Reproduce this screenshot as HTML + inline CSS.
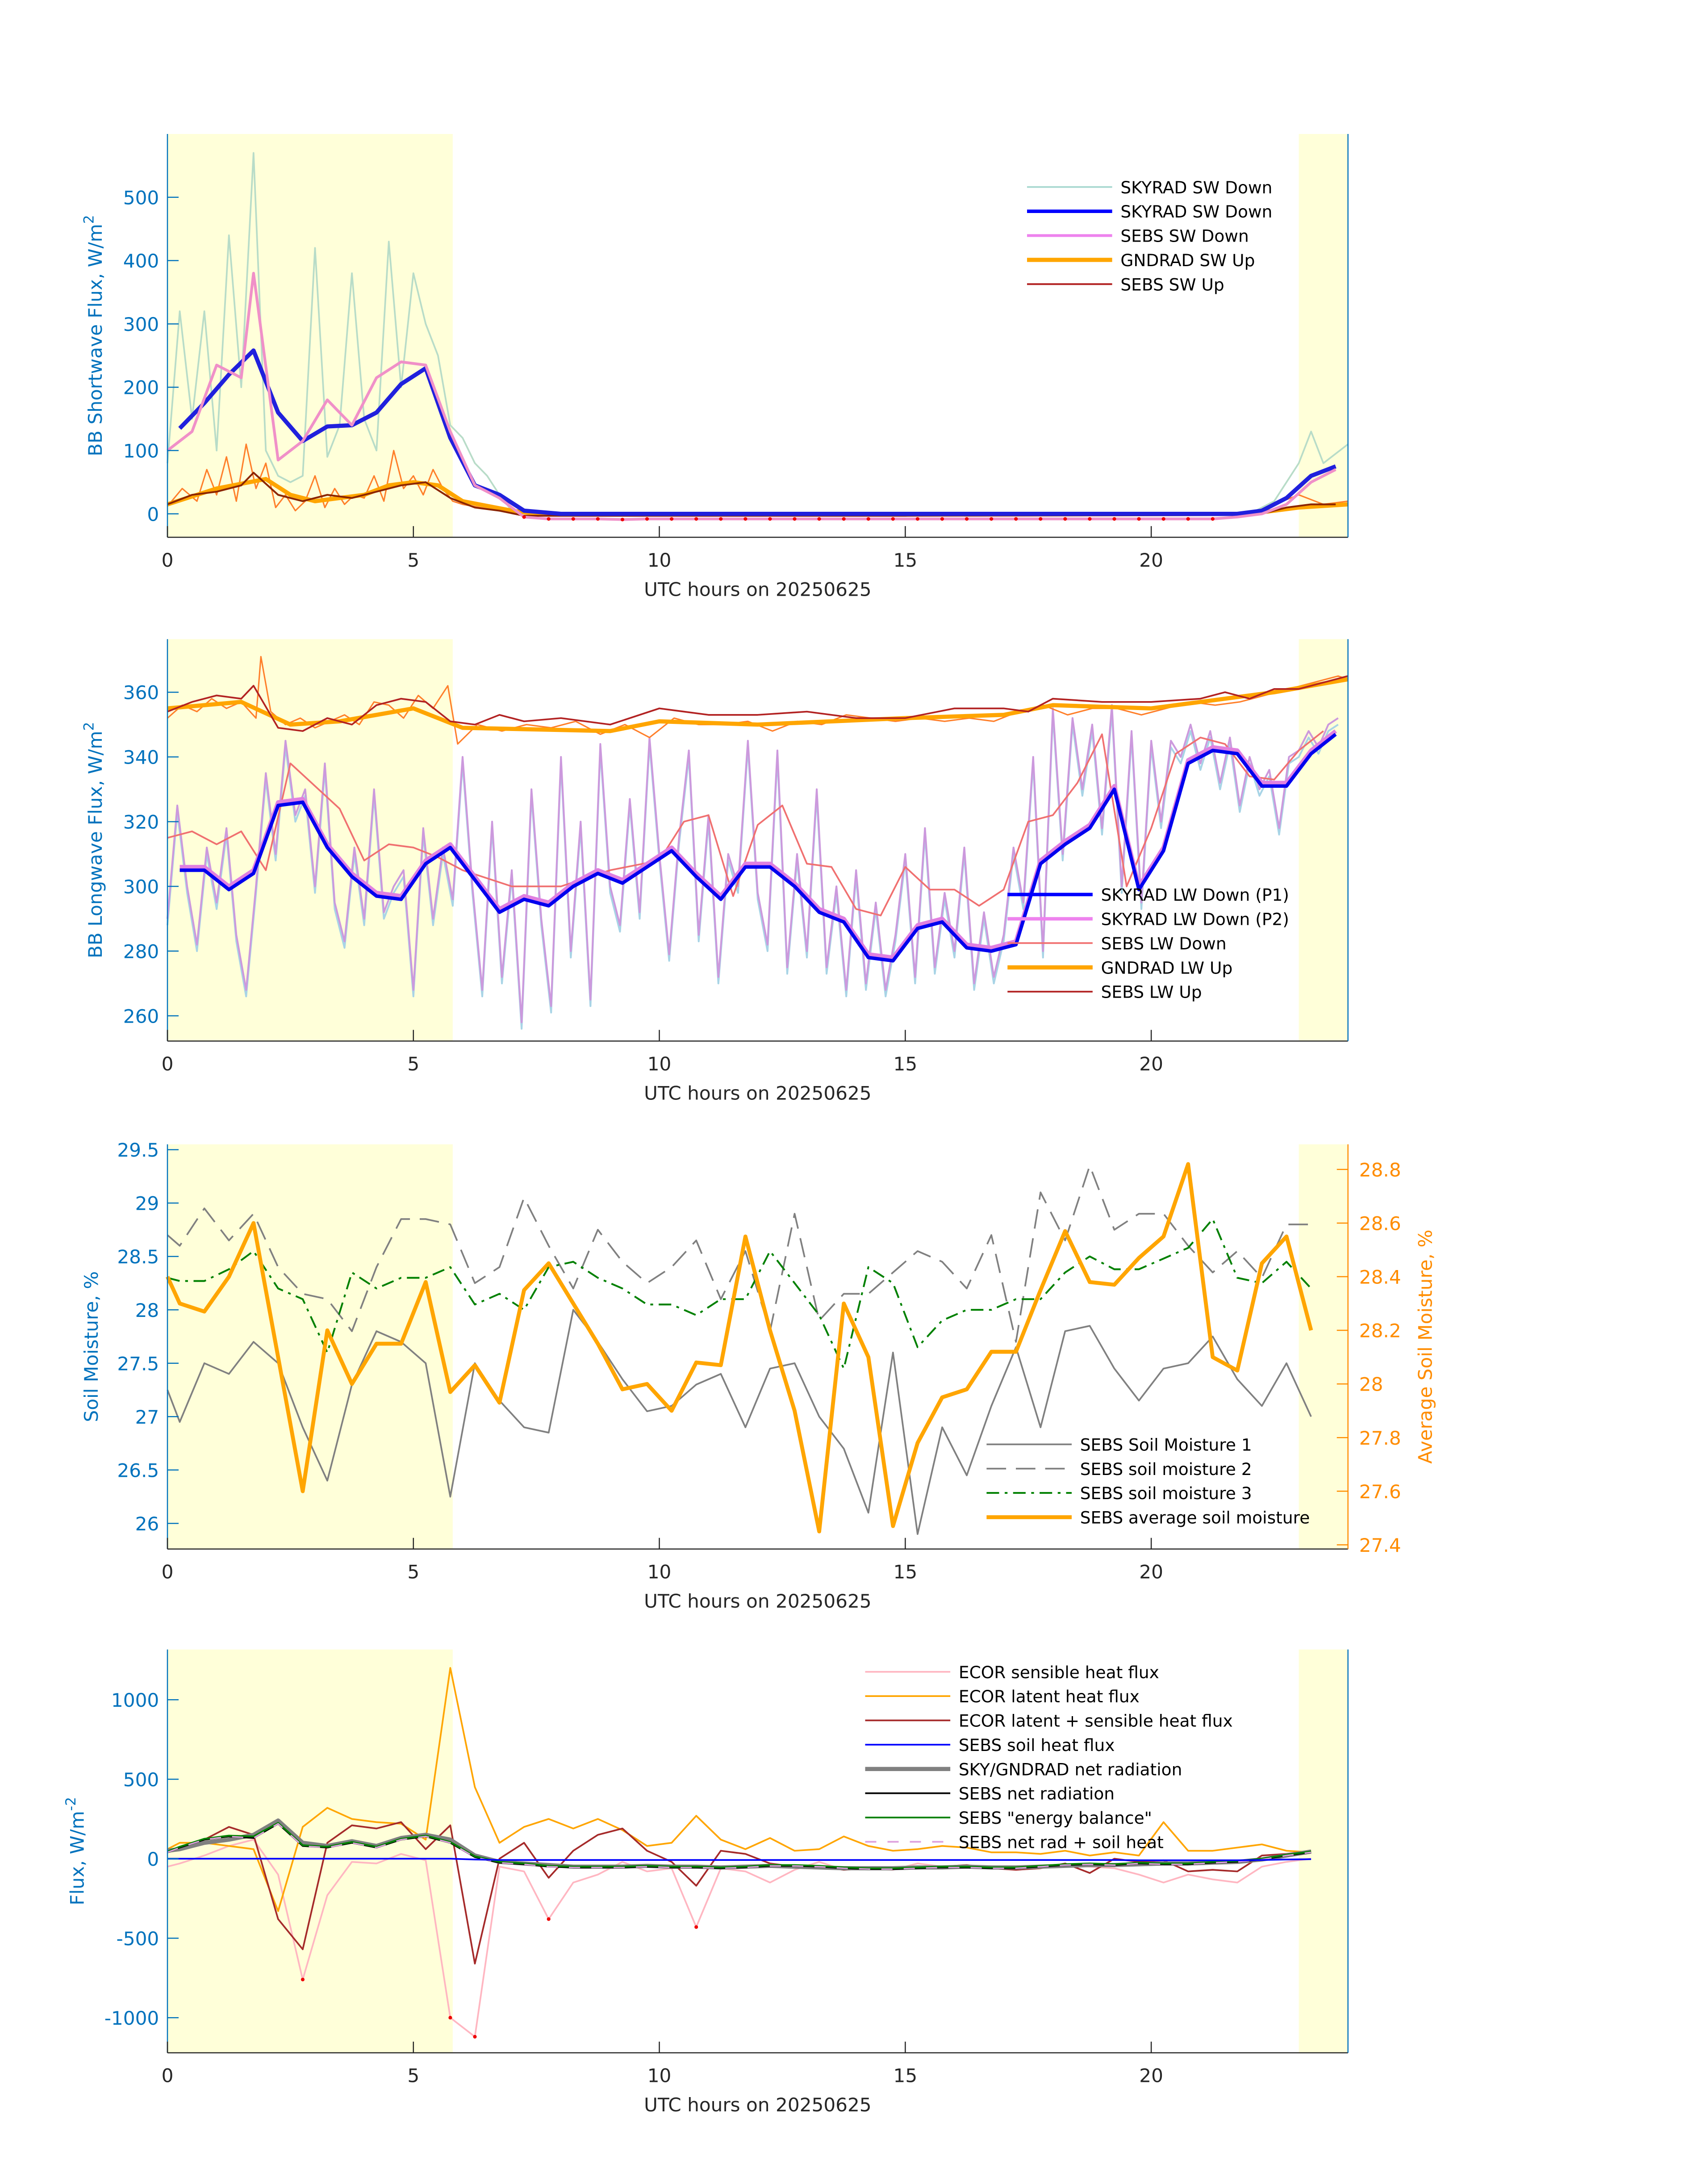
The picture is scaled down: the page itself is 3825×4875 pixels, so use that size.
<!DOCTYPE html>
<html><head><meta charset="utf-8"><style>
html,body{margin:0;padding:0;background:#fff}
svg{display:block}
text{font-family:"DejaVu Sans","Liberation Sans",sans-serif}
.tk{font-size:13.5px;fill:#0072BD}
.xt{font-size:13.5px;fill:#262626}
.lg{font-size:12px;fill:#000}
</style></head><body>
<svg id="fig" width="3825" height="4875" viewBox="0 0 1224 1560" xmlns="http://www.w3.org/2000/svg"></svg>
<script>
// ---------- DATA ----------
// Panel 1 (shortwave)
const swRawT=[0,0.25,0.5,0.75,1,1.25,1.5,1.75,2,2.25,2.5,2.75,3,3.25,3.5,3.75,4,4.25,4.5,4.75,5,5.25,5.5,5.75,6,6.25,6.5,6.75,7,7.5,22,22.5,23,23.25,23.5,24];
const swRawV=[80,320,150,320,100,440,200,570,100,60,50,60,420,90,140,380,150,100,430,200,380,300,250,140,120,80,60,30,5,0,0,20,80,130,80,110];
const swDownT=[0.25,0.75,1.25,1.75,2.25,2.75,3.25,3.75,4.25,4.75,5.25,5.75,6.25,6.75,7.25,8,10,12,14,16,18,20,21.75,22.25,22.75,23.25,23.75];
const swDownV=[135,175,220,258,160,115,138,140,160,205,230,120,45,30,5,0,0,0,0,0,0,0,0,5,25,60,75];
const sebsSwDownT=[0,0.5,1,1.5,1.75,2.25,2.75,3.25,3.75,4.25,4.75,5.25,5.75,6.25,6.75,7.25,7.75,8.25,8.75,9.25,9.75,10.25,10.75,11.25,11.75,12.25,12.75,13.25,13.75,14.25,14.75,15.25,15.75,16.25,16.75,17.25,17.75,18.25,18.75,19.25,19.75,20.25,20.75,21.25,21.75,22.25,22.75,23.25,23.75];
const sebsSwDownV=[100,130,235,215,380,85,115,180,140,215,240,235,130,45,25,-5,-8,-8,-8,-9,-8,-8,-8,-8,-8,-8,-8,-8,-8,-8,-8,-8,-8,-8,-8,-8,-8,-8,-8,-8,-8,-8,-8,-8,-5,0,15,50,70];
const gndSwT=[0,1,2,2.5,3,4,4.5,5,5.5,6,7,7.5,12,18,22,23,24];
const gndSwV=[15,40,55,30,20,30,45,50,45,20,5,0,0,0,0,10,15];
const gndSwRawT=[0,0.3,0.6,0.8,1,1.2,1.4,1.6,1.8,2,2.2,2.4,2.6,2.8,3,3.2,3.4,3.6,3.8,4,4.2,4.4,4.6,4.8,5,5.2,5.4,5.6,5.8,6,6.5,7,8,22,23,23.5,24];
const gndSwRawV=[12,40,20,70,30,90,20,110,40,80,10,30,5,20,60,10,40,15,30,25,60,20,100,40,60,30,70,40,20,15,8,2,0,0,30,15,20];
const sebsSwUpT=[0,0.5,1,1.5,1.75,2.25,2.75,3.25,3.75,4.25,4.75,5.25,5.75,6.25,6.75,7.25,10,15,21.75,22.25,22.75,23.25,23.75];
const sebsSwUpV=[15,30,35,45,65,30,20,30,25,35,45,50,25,10,5,-3,-3,-3,-2,0,10,15,15];
// Panel 2 (longwave)
const lwUpT=[0,1.5,2.5,3.5,5,6,9,10,12,15,17,18,20,21,22.5,24];
const lwUpV=[355,357,350,351,355,349,348,351,350,352,353,356,355,357,360,364];
const lwUpRawT=[0,0.3,0.6,0.9,1.2,1.5,1.8,1.9,2.1,2.4,2.7,3,3.3,3.6,3.9,4.2,4.5,4.8,5.1,5.4,5.7,5.9,6.3,6.8,7.3,7.8,8.3,8.8,9.3,9.8,10.3,10.8,11.3,11.8,12.3,12.8,13.3,13.8,14.3,14.8,15.3,15.8,16.3,16.8,17.3,17.8,18.3,18.8,19.3,19.8,20.3,20.8,21.3,21.8,22.3,22.8,23.3,23.8,24];
const lwUpRawV=[352,356,354,358,355,357,352,371,354,350,352,349,351,353,350,357,356,352,359,355,362,344,350,348,350,349,351,347,350,346,352,350,350,351,348,351,350,353,352,351,352,351,352,351,354,356,353,355,355,353,355,357,356,357,359,361,363,365,364];
const sebsLwUpT=[0,0.5,1,1.5,1.75,2.25,2.75,3.25,3.75,4.25,4.75,5.25,5.75,6.25,6.75,7.25,8,9,10,11,12,13,14,15,16,17,17.5,18,19,20,21,21.5,22,22.5,23,23.5,24];
const sebsLwUpV=[354,357,359,358,362,349,348,352,350,356,358,357,351,350,353,351,352,350,355,353,353,354,352,352,355,355,354,358,357,357,358,360,358,361,361,363,365];
const lwP1T=[0.25,0.75,1.25,1.75,2.25,2.75,3.25,3.75,4.25,4.75,5.25,5.75,6.25,6.75,7.25,7.75,8.25,8.75,9.25,9.75,10.25,10.75,11.25,11.75,12.25,12.75,13.25,13.75,14.25,14.75,15.25,15.75,16.25,16.75,17.25,17.75,18.25,18.75,19.25,19.75,20.25,20.75,21.25,21.75,22.25,22.75,23.25,23.75];
const lwP1V=[305,305,299,304,325,326,312,303,297,296,307,312,302,292,296,294,300,304,301,306,311,303,296,306,306,300,292,289,278,277,287,289,281,280,282,307,313,318,330,299,311,338,342,341,331,331,341,347];
const sebsLwDownT=[0,0.5,1,1.5,2,2.5,3,3.5,4,4.5,5,5.5,6,7,8,9,10,10.5,11,11.5,12,12.5,13,13.5,14,14.5,15,15.5,16,16.5,17,17.5,18,18.5,19,19.5,20,20.5,21,21.5,22,22.5,23,23.5];
const sebsLwDownV=[315,317,313,317,305,338,331,324,308,313,312,309,305,300,300,305,308,320,322,297,319,325,307,306,293,291,306,299,299,294,299,320,322,332,347,300,318,341,346,344,334,333,342,348];
const lwRawT=[0,0.2,0.4,0.6,0.8,1,1.2,1.4,1.6,1.8,2,2.2,2.4,2.6,2.8,3,3.2,3.4,3.6,3.8,4,4.2,4.4,4.6,4.8,5,5.2,5.4,5.6,5.8,6,6.2,6.4,6.6,6.8,7,7.2,7.4,7.6,7.8,8,8.2,8.4,8.6,8.8,9,9.2,9.4,9.6,9.8,10,10.2,10.4,10.6,10.8,11,11.2,11.4,11.6,11.8,12,12.2,12.4,12.6,12.8,13,13.2,13.4,13.6,13.8,14,14.2,14.4,14.6,14.8,15,15.2,15.4,15.6,15.8,16,16.2,16.4,16.6,16.8,17,17.2,17.4,17.6,17.8,18,18.2,18.4,18.6,18.8,19,19.2,19.4,19.6,19.8,20,20.2,20.4,20.6,20.8,21,21.2,21.4,21.6,21.8,22,22.2,22.4,22.6,22.8,23,23.2,23.4,23.6,23.8,24];
const lwRawV=[290,325,300,282,312,295,318,285,268,300,335,310,345,322,330,300,338,295,283,312,290,330,292,300,305,268,318,290,312,296,340,300,268,320,272,305,258,330,290,263,340,280,320,265,344,300,288,327,292,346,310,279,315,342,285,322,272,310,300,345,298,282,342,275,310,280,330,275,300,268,305,270,295,268,285,310,272,318,275,298,280,312,270,292,272,285,312,295,340,280,355,310,352,330,350,318,356,300,348,295,345,320,345,340,350,338,348,332,346,325,340,330,336,318,340,342,348,343,350,352];
// Panel 3 (soil moisture)
const smT=[0,0.25,0.75,1.25,1.75,2.25,2.75,3.25,3.75,4.25,4.75,5.25,5.75,6.25,6.75,7.25,7.75,8.25,8.75,9.25,9.75,10.25,10.75,11.25,11.75,12.25,12.75,13.25,13.75,14.25,14.75,15.25,15.75,16.25,16.75,17.25,17.75,18.25,18.75,19.25,19.75,20.25,20.75,21.25,21.75,22.25,22.75,23.25];
const sm1=[27.25,26.95,27.5,27.4,27.7,27.5,26.9,26.4,27.3,27.8,27.7,27.5,26.25,27.5,27.15,26.9,26.85,28.0,27.7,27.35,27.05,27.1,27.3,27.4,26.9,27.45,27.5,27.0,26.7,26.1,27.6,25.9,26.9,26.45,27.1,27.65,26.9,27.8,27.85,27.45,27.15,27.45,27.5,27.75,27.35,27.1,27.5,27.0];
const sm2=[28.7,28.6,28.95,28.65,28.9,28.4,28.15,28.1,27.8,28.4,28.85,28.85,28.8,28.25,28.4,29.05,28.6,28.2,28.75,28.45,28.25,28.4,28.65,28.1,28.55,27.8,28.9,27.9,28.15,28.15,28.35,28.55,28.45,28.2,28.7,27.7,29.1,28.65,29.35,28.75,28.9,28.9,28.6,28.35,28.55,28.3,28.8,28.8];
const sm3=[28.3,28.27,28.27,28.38,28.55,28.2,28.1,27.6,28.35,28.2,28.3,28.3,28.4,28.05,28.15,28.0,28.4,28.45,28.3,28.2,28.05,28.05,27.95,28.1,28.1,28.55,28.25,27.95,27.45,28.4,28.25,27.65,27.9,28.0,28.0,28.1,28.1,28.35,28.5,28.38,28.38,28.48,28.58,28.85,28.3,28.25,28.45,28.2];
const smAvg=[28.4,28.3,28.27,28.4,28.6,28.1,27.6,28.2,28.0,28.15,28.15,28.38,27.97,28.07,27.93,28.35,28.45,28.3,28.15,27.98,28.0,27.9,28.08,28.07,28.55,28.2,27.9,27.45,28.3,28.1,27.47,27.78,27.95,27.98,28.12,28.12,28.35,28.57,28.38,28.37,28.47,28.55,28.82,28.1,28.05,28.45,28.55,28.2];
// Panel 4 (fluxes)
const fxT=[0,0.25,0.75,1.25,1.75,2.25,2.75,3.25,3.75,4.25,4.75,5.25,5.75,6.25,6.75,7.25,7.75,8.25,8.75,9.25,9.75,10.25,10.75,11.25,11.75,12.25,12.75,13.25,13.75,14.25,14.75,15.25,15.75,16.25,16.75,17.25,17.75,18.25,18.75,19.25,19.75,20.25,20.75,21.25,21.75,22.25,22.75,23.25];
const ecorH=[-50,-30,20,80,120,-100,-760,-230,-20,-30,30,-10,-1000,-1120,-50,-80,-380,-150,-100,-20,-80,-60,-430,-60,-80,-150,-70,-20,-70,-60,-70,-30,-50,-40,-60,-70,-60,-40,-50,-60,-100,-150,-100,-130,-150,-50,-20,0];
const ecorLE=[60,100,100,80,60,-330,200,320,250,230,220,120,1200,450,100,200,250,190,250,180,80,100,270,120,60,130,50,60,140,80,50,60,80,70,40,40,30,50,20,40,20,230,50,50,70,90,50,40];
const ecorSum=[40,60,120,200,150,-380,-570,100,210,190,230,60,210,-660,0,100,-120,50,150,190,50,-20,-170,50,30,-30,-50,-50,-70,-60,-60,-50,-50,-40,-60,-70,-60,-30,-90,0,-20,-10,-80,-70,-80,20,30,50];
const soilG=[0,0,0,0,0,0,0,0,0,0,0,0,0,-5,-8,-8,-8,-8,-8,-8,-8,-8,-8,-8,-8,-8,-8,-8,-8,-8,-8,-8,-8,-8,-8,-8,-8,-8,-8,-8,-10,-10,-10,-10,-10,-8,-5,-3];
const netSky=[50,60,100,120,150,240,100,80,110,80,130,150,120,20,-20,-30,-40,-50,-50,-50,-45,-50,-50,-55,-50,-45,-50,-55,-60,-60,-60,-55,-55,-50,-55,-55,-50,-45,-40,-40,-35,-30,-30,-25,-20,-5,20,45];
const netSebs=[40,70,120,140,130,220,80,70,100,70,120,140,100,10,-25,-35,-50,-55,-55,-55,-50,-55,-55,-60,-55,-45,-45,-50,-60,-65,-65,-60,-55,-55,-60,-60,-50,-40,-35,-40,-30,-35,-35,-25,-20,-5,20,40];
const energyBal=[45,75,125,145,140,225,85,75,105,75,125,145,105,15,-20,-30,-45,-50,-50,-50,-45,-50,-50,-55,-50,-40,-40,-45,-55,-60,-60,-55,-50,-50,-55,-55,-45,-35,-30,-35,-25,-30,-30,-20,-15,0,25,45];
// tick labels
const xTicks=[0,5,10,15,20];
const ticks1=[0,100,200,300,400,500];
const ticks2=[260,280,300,320,340,360];
const ticks3=[26,26.5,27,27.5,28,28.5,29,29.5];
const ticks3r=[27.4,27.6,27.8,28,28.2,28.4,28.6,28.8];
const ticks4=[-1000,-500,0,500,1000];

// ---------- DRAW ----------
const NS='http://www.w3.org/2000/svg';
const svg=document.getElementById('fig');
const L=120,R=966;
const xs=t=>L+(R-L)*t/24;
function el(tag,attrs,parent){const e=document.createElementNS(NS,tag);for(const k in attrs)e.setAttribute(k,attrs[k]);(parent||svg).appendChild(e);return e;}
function panel(top,bot,ymin,ymax,name){
  const g=el('g',{});
  
  
  const ys=v=>bot-(bot-top)*(v-ymin)/(ymax-ymin);
  const b1=el('rect',{x:L,y:top,width:xs(5.8)-L,height:bot-top,fill:'#ffffd9'},g);
  
  
  const b2=el('rect',{x:xs(23),y:top,width:R-xs(23),height:bot-top,fill:'#ffffd9'},g);
  
  
  return {g,ys,top,bot};
}
function line(p,T,V,ys,color,w,extra){
  const pts=[];const n=Math.min(T.length,V.length);
  for(let i=0;i<n;i++)pts.push(xs(T[i]).toFixed(2)+','+ys(V[i]).toFixed(2));
  const a=Object.assign({points:pts.join(' '),fill:'none',stroke:color,'stroke-width':w,'stroke-linejoin':'round'},extra||{});
  const e=el('polyline',a,p.g);
  
  
  return e;
}
function dots(p,T,V,ys,filter){
  for(let i=0;i<Math.min(T.length,V.length);i++){ if(!filter(T[i],V[i]))continue;
    const c=el('circle',{cx:xs(T[i]),cy:ys(V[i]),r:1.3,fill:'#e00'},p.g);
    
    
  }
}
function axes(p,ticks,fmt,ylabel,color){
  const ax=el('line',{x1:L,y1:p.top,x2:L,y2:p.bot,stroke:color||'#0072BD','stroke-width':0.8},p.g);
  
  
  const bx=el('line',{x1:L,y1:p.bot,x2:R,y2:p.bot,stroke:'#262626','stroke-width':0.8},p.g);
  
  
  const rx=el('line',{x1:R,y1:p.top,x2:R,y2:p.bot,stroke:'#0072BD','stroke-width':0.8},p.g);
  
  
  ticks.forEach(v=>{const y=p.ys(v);
    el('line',{x1:L,y1:y,x2:L+8,y2:y,stroke:color||'#0072BD','stroke-width':0.8},p.g);
    const t=el('text',{x:L-6,y:y+5,'text-anchor':'end',class:'tk'},p.g);t.textContent=fmt(v);
    
    
  });
  xTicks.forEach(v=>{const x=xs(v);
    el('line',{x1:x,y1:p.bot,x2:x,y2:p.bot-8,stroke:'#262626','stroke-width':0.8},p.g);
    const t=el('text',{x:x,y:p.bot+21,'text-anchor':'middle',class:'xt'},p.g);t.textContent=v;
    
    
  });
  const xl=el('text',{x:543,y:p.bot+42,'text-anchor':'middle',class:'xt'},p.g);xl.textContent='UTC hours on 20250625';
  
  
  const cy=(p.top+p.bot)/2;
  const yl=el('text',{x:0,y:0,'text-anchor':'middle',class:'tk',transform:`translate(${ylabel[1]},${cy}) rotate(-90)`},p.g);
  yl.innerHTML=ylabel[0];
  
  
}
function legend(p,x,y0,items){
  items.forEach((it,i)=>{const y=y0+i*17.4;
    const l=el('line',Object.assign({x1:x,y1:y,x2:x+61,y2:y,stroke:it[1],'stroke-width':it[2]},it[3]||{}),p.g);
    
    
    const t=el('text',{x:x+67,y:y+4.5,class:'lg'},p.g);t.textContent=it[0];
    
    
  });
}

// Panel 1
const p1=panel(96,385,-37,600,'shortwave-panel');
line(p1,swRawT,swRawV,p1.ys,'#b8dcc8',1.2);
line(p1,gndSwRawT,gndSwRawV,p1.ys,'#ff7f2a',1);
line(p1,gndSwT,gndSwV,p1.ys,'#ffa500',3);
line(p1,sebsSwUpT,sebsSwUpV,p1.ys,'#8b2500',1.3);
line(p1,swDownT,swDownV,p1.ys,'#2020dd',3);
line(p1,sebsSwDownT,sebsSwDownV,p1.ys,'#f090c8',2);
dots(p1,sebsSwDownT,sebsSwDownV,p1.ys,(t,v)=>t>7&&t<21.5);
axes(p1,ticks1,v=>v,['BB Shortwave Flux, W/m<tspan dy="-6" font-size="10">2</tspan>',73]);
legend(p1,736,134,[['SKYRAD SW Down','#a8d8d0',1.2],['SKYRAD SW Down','#0000ff',2.5],['SEBS SW Down','#ee82ee',2],['GNDRAD SW Up','#ffa500',3],['SEBS SW Up','#b22222',1.3]]);

// Panel 2
const p2=panel(458,746,252.2,376.4,'longwave-panel');
line(p2,lwRawT,lwRawV.map(v=>v-2),p2.ys,'#a8d4e6',1.3);
line(p2,lwRawT,lwRawV,p2.ys,'#cc99dd',1.3);
line(p2,lwUpRawT,lwUpRawV,p2.ys,'#ff7f2a',1);
line(p2,lwUpT,lwUpV,p2.ys,'#ffa500',3);
line(p2,sebsLwUpT,sebsLwUpV,p2.ys,'#b22222',1.2);
line(p2,sebsLwDownT,sebsLwDownV,p2.ys,'#f07070',1.2);
line(p2,lwP1T,lwP1V.map(v=>v+1),p2.ys,'#e080e0',3);
line(p2,lwP1T,lwP1V,p2.ys,'#0000ee',2.5);
axes(p2,ticks2,v=>v,['BB Longwave Flux, W/m<tspan dy="-6" font-size="10">2</tspan>',73]);
legend(p2,722,641,[['SKYRAD LW Down (P1)','#0000ff',2.5],['SKYRAD LW Down (P2)','#ee82ee',2.5],['SEBS LW Down','#f07070',1.2],['GNDRAD LW Up','#ffa500',3],['SEBS LW Up','#b22222',1.2]]);

// Panel 3
const p3=panel(820,1110,25.76,29.55,'soil-moisture-panel');
const ysR=v=>1107-(1107-838)*(v-27.4)/(28.8-27.4);
line(p3,smT,sm1,p3.ys,'#808080',1.2);
line(p3,smT,sm2,p3.ys,'#808080',1.2,{'stroke-dasharray':'14,7'});
line(p3,smT,sm3,p3.ys,'#008000',1.3,{'stroke-dasharray':'9,4,2,4'});
line(p3,smT,smAvg,ysR,'#ffa500',2.8);
axes(p3,ticks3,v=>v,['Soil Moisture, %',70]);
const ra=el('line',{x1:R,y1:820,x2:R,y2:1110,stroke:'#ff8c00','stroke-width':0.8},p3.g);


ticks3r.forEach(v=>{const y=ysR(v);
  el('line',{x1:R-8,y1:y,x2:R,y2:y,stroke:'#ff8c00','stroke-width':0.8},p3.g);
  const t=el('text',{x:R+8,y:y+5,class:'tk',fill:'#ff8c00',style:'fill:#ff8c00'},p3.g);t.textContent=v===28?'28':v.toFixed(1);
  
  
});
const rl=el('text',{x:0,y:0,'text-anchor':'middle',class:'tk',style:'fill:#ff8c00',transform:'translate(1026,965) rotate(-90)'},p3.g);rl.textContent='Average Soil Moisture, %';


legend(p3,707,1035,[['SEBS Soil Moisture 1','#808080',1.2],['SEBS soil moisture 2','#808080',1.2,{'stroke-dasharray':'14,7'}],['SEBS soil moisture 3','#008000',1.3,{'stroke-dasharray':'9,4,2,4'}],['SEBS average soil moisture','#ffa500',2.8]]);

// Panel 4
const p4=panel(1182,1471,-1221,1316,'flux-panel');
line(p4,fxT,ecorH,p4.ys,'#ffb6c1',1.2);
dots(p4,fxT,ecorH,p4.ys,(t,v)=>v<-300);
line(p4,fxT,ecorLE,p4.ys,'#ffa500',1.2);
line(p4,fxT,ecorSum,p4.ys,'#a52a2a',1.2);
line(p4,fxT,netSky,p4.ys,'#808080',3);
line(p4,fxT,netSebs,p4.ys,'#000000',1.2);
line(p4,fxT,energyBal,p4.ys,'#008000',1.3);
line(p4,fxT,netSebs.map((v,i)=>v+soilG[i]*0),p4.ys,'#dda0dd',1,{'stroke-dasharray':'8,8'});
line(p4,fxT,soilG,p4.ys,'#0000ff',1.2);
axes(p4,ticks4,v=>v,['Flux, W/m<tspan dy="-6" font-size="10">-2</tspan>',60]);
legend(p4,620,1198,[['ECOR sensible heat flux','#ffb6c1',1.2],['ECOR latent heat flux','#ffa500',1.2],['ECOR latent + sensible heat flux','#a52a2a',1.2],['SEBS soil heat flux','#0000ff',1.2],['SKY/GNDRAD net radiation','#808080',3],['SEBS net radiation','#000000',1.2],['SEBS "energy balance"','#008000',1.2],['SEBS net rad + soil heat','#dda0dd',1.2,{'stroke-dasharray':'8,8'}]]);
</script>
</body></html>
